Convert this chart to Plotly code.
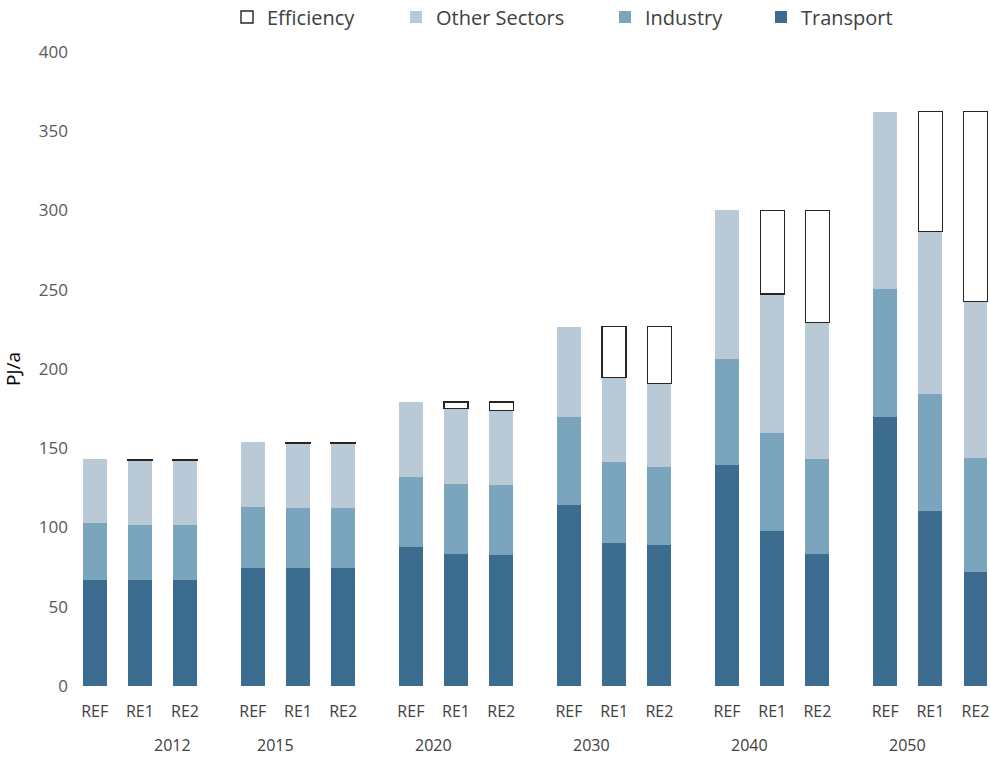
import plotly.graph_objects as go

# ---- data (PJ/a) ----
years = ["2012", "2015", "2020", "2030", "2040", "2050"]
scenarios = ["REF", "RE1", "RE2"]
transport = [66.7, 66.7, 66.7, 74.2, 74.2, 74.2, 87.5, 83.3, 82.6,
             114.4, 90.2, 88.7, 139.2, 97.8, 83.3, 169.7, 110.2, 72.1]
industry = [35.9, 35.1, 35.1, 38.7, 38.1, 38.1, 44.2, 44.1, 44.2,
            55.1, 50.9, 49.7, 67.1, 61.6, 60.1, 80.8, 74.0, 72.0]
other_sectors = [40.6, 40.6, 40.6, 40.8, 40.8, 40.8, 47.5, 47.8, 47.1,
                 57.2, 53.6, 52.3, 93.8, 87.9, 86.1, 111.8, 102.5, 98.6]
efficiency = [None, 0.5, 0.5, None, 0.5, 0.5, None, 4.0, 5.3,
              None, 32.0, 36.0, None, 52.8, 70.6, None, 75.6, 119.6]
y_ticks = [0, 50, 100, 150, 200, 250, 300, 350, 400]

# ---- layout helpers ----
GROUP_STEP = 3.5
xpos = [g * GROUP_STEP + s for g in range(len(years)) for s in range(len(scenarios))]
xtext = [sc for _ in years for sc in scenarios]
year_label_x = [1.73] + [g * GROUP_STEP + 0.5 for g in range(1, len(years))]

C_TRANSPORT = "#3c6d91"
C_INDUSTRY = "#7ba5bc"
C_OTHER = "#b9cad6"

TICK_FONT = dict(family="Liberation Sans Narrow, Arial Narrow, Open Sans, sans-serif",
                 size=16, color="#404040")

fig = go.Figure()
bar_w = 0.53
fig.add_trace(go.Bar(x=xpos, y=transport, name="Transport", width=bar_w,
                     marker=dict(color=C_TRANSPORT, line=dict(width=0)), legend="legend4"))
fig.add_trace(go.Bar(x=xpos, y=industry, name="Industry", width=bar_w,
                     marker=dict(color=C_INDUSTRY, line=dict(width=0)), legend="legend3"))
fig.add_trace(go.Bar(x=xpos, y=other_sectors, name="Other Sectors", width=bar_w,
                     marker=dict(color=C_OTHER, line=dict(width=0)), legend="legend2"))
fig.add_trace(go.Bar(x=xpos, y=efficiency, name="Efficiency", width=bar_w,
                     marker=dict(color="white", line=dict(color="#262626", width=1.4)),
                     legend="legend"))

W, H = 990, 757
L, R, T, B = 75, 0, 52, 71
plot_w = W - L - R
plot_h = H - T - B
px_per_unit = 45.17
first_bar_px = 94.7
x_left = (L - first_bar_px) / px_per_unit
x_right = x_left + plot_w / px_per_unit

legend_font = dict(family="Open Sans, sans-serif", size=20, color="#404040")
def leg(xpix):
    return dict(x=(xpix - L) / plot_w, xanchor="left", y=1 + (T - 17) / plot_h,
                yanchor="middle", orientation="h", font=legend_font,
                bgcolor="rgba(0,0,0,0)", itemwidth=30)

fig.update_layout(
    width=W, height=H,
    margin=dict(l=L, r=R, t=T, b=B, pad=0, autoexpand=False),
    barmode="stack",
    plot_bgcolor="white", paper_bgcolor="white",
    font=dict(family="Open Sans, sans-serif", color="#404040"),
    showlegend=True,
    hovermode=False,
    legend=leg(227), legend2=leg(396), legend3=leg(605), legend4=leg(761),
    xaxis=dict(range=[x_left, x_right], tickvals=xpos, ticktext=xtext,
               showgrid=False, zeroline=False, showline=False, ticks="",
               tickfont=TICK_FONT, ticklabelstandoff=14),
    yaxis=dict(range=[0, 400], tickvals=y_ticks, showgrid=False, zeroline=False,
               showline=False, ticks="", ticklabelstandoff=6,
               tickfont=dict(family="Open Sans, sans-serif", size=17, color="#595959"),
               title=dict(text="PJ/a", font=dict(family="Open Sans, sans-serif",
                                                 size=19, color="#000000"), standoff=14)),
)

for yr, xl in zip(years, year_label_x):
    fig.add_annotation(x=xl, y=-(745 - (H - B)) / plot_h, xref="x", yref="paper",
                       text=yr, showarrow=False, xanchor="center", yanchor="middle",
                       font=TICK_FONT)

# remove the default 8px page margin so the 990x757 figure fills the window exactly
fig.write_html("out.html",
               config={"displayModeBar": False},
               post_script="document.body.style.margin='0';"
                           "document.body.style.overflow='hidden';")
